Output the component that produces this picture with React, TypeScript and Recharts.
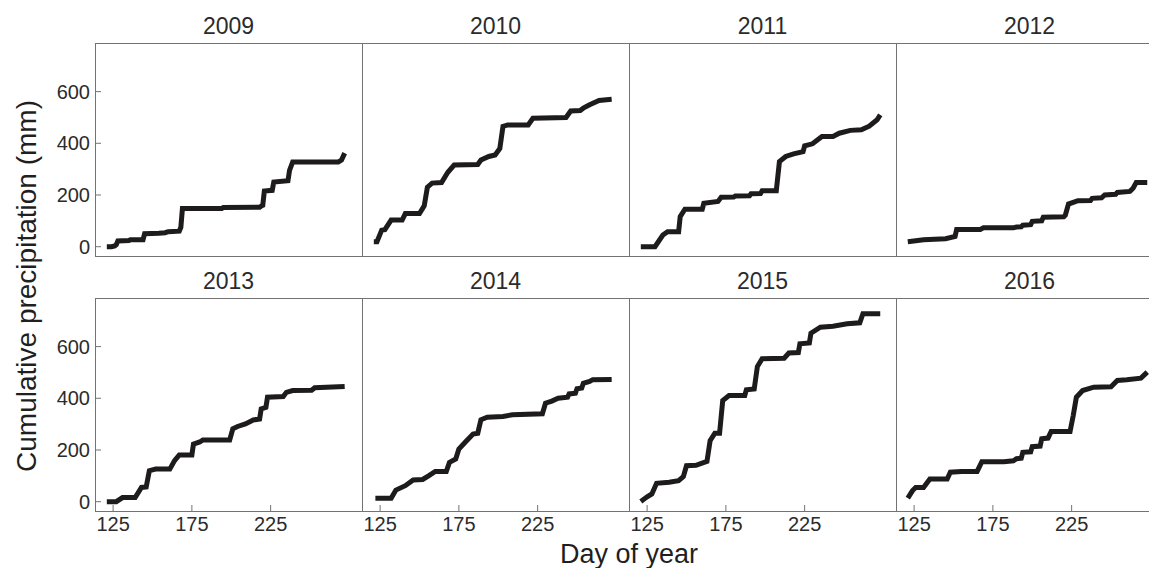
import { LineChart, Line, XAxis, YAxis } from 'recharts';

// cumulative precipitation (mm) by day of year
const years = ['2009', '2010', '2011', '2012', '2013', '2014', '2015', '2016'];

const p2009: [number, number][] = [
  [121, 0], [124, 0], [126, 3], [127, 8], [128, 22], [135, 24], [136, 27], [144, 27], [145, 50], [154, 52],
  [158, 54], [160, 58], [167, 60], [168, 75], [169, 148], [194, 148], [195, 152], [218, 153], [219, 157],
  [220, 160], [221, 215], [226, 218], [227, 250], [236, 255], [237, 295], [239, 328], [268, 328], [270, 335], [272, 362],
];
const p2010: [number, number][] = [
  [121, 19], [123, 19], [126, 64], [128, 66], [132, 103], [139, 103], [141, 128], [150, 128], [153, 158], [155, 230],
  [158, 246], [164, 248], [168, 288], [172, 316], [187, 318], [189, 335], [194, 349], [198, 355], [201, 380],
  [203, 465], [206, 471], [219, 471], [222, 497], [243, 500], [246, 525], [252, 527], [254, 536], [258, 549],
  [264, 566], [272, 570],
];
const p2011: [number, number][] = [
  [121, 0], [130, 0], [135, 45], [138, 58], [145, 58], [146, 116], [149, 145], [160, 145], [161, 168], [170, 175],
  [172, 191], [180, 192], [181, 196], [190, 197], [191, 205], [197, 206], [198, 216], [207, 216], [209, 329],
  [213, 349], [218, 359], [224, 368], [225, 390], [230, 398], [236, 426], [243, 426], [247, 439], [254, 450],
  [261, 452], [266, 466], [271, 491], [273, 510],
];
const p2012: [number, number][] = [
  [121, 19], [131, 27], [145, 31], [151, 40], [152, 67], [167, 67], [169, 73], [188, 73], [190, 76], [193, 77],
  [194, 83], [199, 85], [200, 98], [206, 100], [207, 114], [220, 116], [221, 122], [223, 165], [229, 178],
  [237, 179], [238, 187], [244, 189], [246, 200], [253, 203], [254, 210], [262, 214], [264, 226], [266, 248], [273, 248],
];
const p2013: [number, number][] = [
  [121, 0], [127, 0], [131, 16], [139, 16], [143, 55], [146, 57], [148, 120], [152, 126], [161, 126], [164, 159],
  [167, 181], [175, 181], [176, 223], [180, 231], [182, 239], [199, 239], [201, 282], [204, 291], [209, 301],
  [214, 316], [218, 320], [219, 359], [222, 365], [223, 404], [233, 407], [235, 423], [239, 430], [251, 431],
  [253, 441], [272, 446],
];
const p2014: [number, number][] = [
  [122, 13], [132, 13], [135, 45], [141, 62], [146, 84], [152, 86], [156, 101], [160, 117], [167, 117], [169, 152],
  [173, 165], [175, 204], [179, 230], [184, 262], [187, 265], [189, 317], [193, 327], [203, 330], [209, 336],
  [228, 340], [230, 381], [234, 389], [238, 400], [244, 404], [245, 417], [249, 420], [250, 437], [253, 440],
  [254, 458], [258, 465], [260, 472], [272, 473],
];
const p2015: [number, number][] = [
  [121, 1], [125, 19], [128, 30], [131, 71], [139, 75], [145, 81], [148, 97], [150, 139], [156, 141], [163, 156],
  [165, 236], [168, 265], [171, 265], [173, 391], [177, 411], [187, 411], [188, 433], [193, 436], [195, 523],
  [198, 553], [212, 555], [215, 575], [221, 577], [222, 611], [228, 614], [229, 652], [235, 675], [243, 679],
  [252, 688], [260, 692], [262, 727], [273, 727],
];
const p2016: [number, number][] = [
  [121, 14], [124, 43], [126, 55], [131, 55], [135, 88], [146, 88], [148, 114], [155, 117], [165, 117], [168, 155],
  [182, 155], [188, 158], [190, 166], [193, 168], [194, 191], [199, 193], [200, 213], [205, 215], [206, 243],
  [210, 246], [212, 272], [224, 272], [226, 333], [228, 404], [232, 430], [239, 443], [250, 445], [254, 469],
  [260, 472], [269, 478], [273, 501],
];
const series = [p2009, p2010, p2011, p2012, p2013, p2014, p2015, p2016];

const dayTicks = [125, 175, 225];
const mmTicks = [0, 200, 400, 600];

const PANEL_W = 267;
const PANEL_H = 213;
const LEFT = 95;
const TOPS = [43, 298];
const Y_W = 60;
const X_H = 34;
const INK = '#1d1b1b';
const FRAME = '#737373';
const TEXT = '#2b2b2b';
const FONT = '"Liberation Sans", Arial, Helvetica, sans-serif';

// ticks point into the panel, labels sit outside
const YTick = (props: any) => {
  const { x, y, payload } = props;
  return (
    <g>
      <line x1={x + 5} x2={x + 11} y1={y} y2={y} stroke={FRAME} />
      <text x={x} y={y} dy="0.36em" textAnchor="end" fontSize={20} fill={TEXT} fontFamily={FONT}>
        {payload.value}
      </text>
    </g>
  );
};

const XTick = (props: any) => {
  const { x, y, payload } = props;
  return (
    <g>
      <line x1={x} x2={x} y1={y - 6} y2={y - 12} stroke={FRAME} />
      <text x={x} y={y} dy="0.72em" textAnchor="middle" fontSize={20} fill={TEXT} fontFamily={FONT}>
        {payload.value}
      </text>
    </g>
  );
};

const Panel = ({ pts, col, row }: { pts: [number, number][]; col: number; row: number }) => {
  const showY = col === 0;
  const showX = row === 1;
  const yw = showY ? Y_W : 0;
  const xh = showX ? X_H : 0;
  const pad = showX ? 0 : 14; // room below the lowest y label in the top row
  const left = LEFT + col * PANEL_W;
  const top = TOPS[row];
  const data = pts.map(([day, mm]) => ({ day, mm }));
  return (
    <>
      <div style={{ position: 'absolute', left: left - yw, top }}>
        <LineChart
          width={PANEL_W + yw}
          height={PANEL_H + xh + pad}
          data={data}
          margin={{ top: 0, right: 0, bottom: pad, left: 0 }}
        >
          <XAxis
            type="number"
            dataKey="day"
            domain={[113.5, 283]}
            ticks={dayTicks}
            interval={0}
            allowDataOverflow
            hide={!showX}
            height={xh}
            axisLine={false}
            tickLine={false}
            tickSize={0}
            tickMargin={6}
            tick={<XTick />}
          />
          <YAxis
            type="number"
            domain={[-36, 788]}
            ticks={mmTicks}
            interval={0}
            allowDataOverflow
            hide={!showY}
            width={yw}
            axisLine={false}
            tickLine={false}
            tickSize={0}
            tickMargin={5}
            tick={<YTick />}
          />
          <Line type="linear" dataKey="mm" stroke={INK} strokeWidth={5} dot={false} isAnimationActive={false} />
        </LineChart>
      </div>
      <div
        style={{
          position: 'absolute',
          left,
          top,
          width: PANEL_W,
          height: PANEL_H + 1,
          boxSizing: 'border-box',
          borderLeft: `1px solid ${FRAME}`,
          borderTop: `1px solid ${FRAME}`,
          borderBottom: `1px solid ${FRAME}`,
          pointerEvents: 'none',
        }}
      />
    </>
  );
};

export default function App() {
  return (
    <div
      style={{
        position: 'absolute',
        left: 0,
        top: 0,
        width: 1149,
        height: 568,
        overflow: 'hidden',
        background: '#fff',
        fontFamily: FONT,
      }}
    >
      {series.map((pts, i) => (
        <Panel key={years[i]} pts={pts} col={i % 4} row={Math.floor(i / 4)} />
      ))}
      <svg width={1149} height={568} style={{ position: 'absolute', left: 0, top: 0, pointerEvents: 'none' }}>
        {years.map((y, i) => (
          <text
            key={y}
            x={LEFT + (i % 4) * PANEL_W + PANEL_W / 2}
            y={TOPS[Math.floor(i / 4)] - 9}
            textAnchor="middle"
            fontSize={23}
            fill={TEXT}
            fontFamily={FONT}
          >
            {y}
          </text>
        ))}
        <text x={629} y={563} textAnchor="middle" fontSize={27} fill="#1f1f1f" fontFamily={FONT}>
          Day of year
        </text>
        <text
          x={36}
          y={286}
          transform="rotate(-90 36 286)"
          textAnchor="middle"
          fontSize={28}
          fill="#1f1f1f"
          fontFamily={FONT}
        >
          Cumulative precipitation (mm)
        </text>
      </svg>
    </div>
  );
}
